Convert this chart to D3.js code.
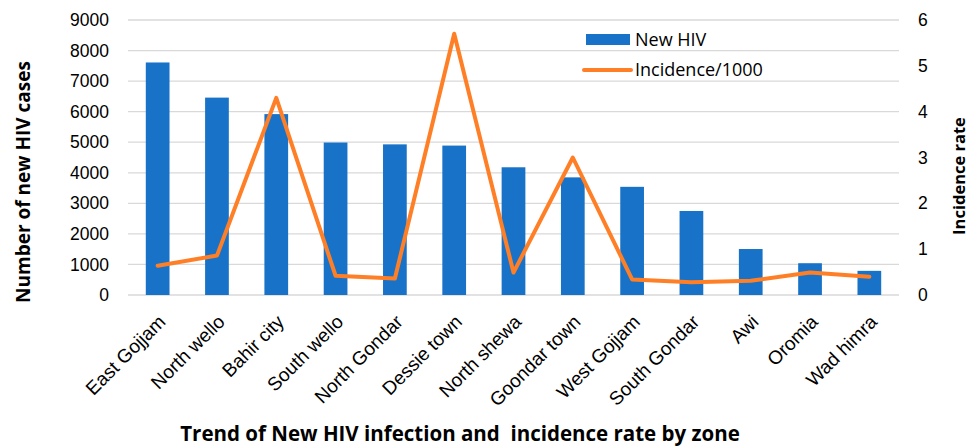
<!DOCTYPE html>
<html>
<head>
<meta charset="utf-8">
<script src="https://cdn.jsdelivr.net/npm/d3@7"></script>
<style>
  body { margin: 0; background: #fff; }
  svg { font-family: "Open Sans", Lato, sans-serif; }
</style>
</head>
<body>
<div id="chart"></div>
<script>
// zones and values
const zones = ["East Gojjam", "North wello", "Bahir city", "South wello", "North Gondar", "Dessie town",
  "North shewa", "Goondar town", "West Gojjam", "South Gondar", "Awi", "Oromia", "Wad himra"];
const newHiv = [7610, 6460, 5920, 4990, 4930, 4890, 4180, 3850, 3540, 2750, 1505, 1040, 790];
const incidence = [0.64, 0.86, 4.3, 0.42, 0.36, 5.7, 0.49, 3.0, 0.34, 0.28, 0.31, 0.49, 0.4];
const leftTicks = [0, 1000, 2000, 3000, 4000, 5000, 6000, 7000, 8000, 9000];
const rightTicks = [0, 1, 2, 3, 4, 5, 6];

const width = 969, height = 447;
const margin = { top: 20, right: 70, bottom: 152, left: 128 };
const blue = "#1873C8", orange = "#FF7F27";

const svg = d3.select("#chart").append("svg")
  .attr("width", width)
  .attr("height", height);

const x = d3.scaleBand()
  .domain(zones)
  .range([margin.left, width - margin.right])
  .paddingInner(0.6)
  .paddingOuter(0.3);

const y = d3.scaleLinear().domain([0, 9000]).range([height - margin.bottom, margin.top]);
const y2 = d3.scaleLinear().domain([0, 6]).range([height - margin.bottom, margin.top]);

// gridlines
svg.append("g")
  .selectAll("line")
  .data(leftTicks)
  .enter()
  .append("line")
  .attr("x1", margin.left)
  .attr("x2", width - margin.right)
  .attr("y1", d => y(d))
  .attr("y2", d => y(d))
  .attr("stroke", "#d9d9d9")
  .attr("stroke-width", 1.3);

// left axis
const leftAxis = d3.axisLeft(y).tickValues(leftTicks).tickFormat(d3.format("d")).tickSize(0).tickPadding(19);
svg.append("g")
  .attr("transform", `translate(${margin.left},0)`)
  .call(leftAxis)
  .call(g => g.select(".domain").remove())
  .selectAll("text")
  .style("font-size", "17.5px")
  .style("fill", "#000");

// right axis
const rightAxis = d3.axisRight(y2).tickValues(rightTicks).tickFormat(d3.format("d")).tickSize(0).tickPadding(19);
svg.append("g")
  .attr("transform", `translate(${width - margin.right},0)`)
  .call(rightAxis)
  .call(g => g.select(".domain").remove())
  .selectAll("text")
  .style("font-size", "17.5px")
  .style("fill", "#000");

// bars
svg.selectAll("rect.bar")
  .data(zones)
  .enter()
  .append("rect")
  .attr("class", "bar")
  .attr("x", d => x(d))
  .attr("width", x.bandwidth())
  .attr("y", (d, i) => y(newHiv[i]))
  .attr("height", (d, i) => y(0) - y(newHiv[i]))
  .attr("fill", blue);

// incidence line
const line = d3.line()
  .x((d, i) => x(zones[i]) + x.bandwidth() / 2)
  .y(d => y2(d));

svg.append("path")
  .datum(incidence)
  .attr("d", line)
  .attr("fill", "none")
  .attr("stroke", orange)
  .attr("stroke-width", 4)
  .attr("stroke-linejoin", "round")
  .attr("stroke-linecap", "round");

// x labels
const bottomAxis = d3.axisBottom(x).tickSize(0).tickPadding(0);
svg.append("g")
  .attr("transform", `translate(0,${y(0)})`)
  .call(bottomAxis)
  .call(g => g.select(".domain").remove())
  .selectAll("text")
  .style("font-size", "19px")
  .style("fill", "#000")
  .attr("text-anchor", "end")
  .attr("dy", "0")
  .attr("transform", "translate(9,28) rotate(-45)");

// axis titles
svg.append("text")
  .attr("transform", "translate(30,182) rotate(-90)")
  .attr("text-anchor", "middle")
  .style("font-size", "19px")
  .style("font-weight", "bold")
  .text("Number of new HIV cases");

svg.append("text")
  .attr("transform", "translate(965,176) rotate(-90)")
  .attr("text-anchor", "middle")
  .style("font-size", "16.5px")
  .style("font-weight", "bold")
  .text("Incidence rate");

svg.append("text")
  .attr("x", 460)
  .attr("y", 441)
  .attr("text-anchor", "middle")
  .style("font-size", "20.5px")
  .style("font-weight", "bold")
  .style("white-space", "pre")
  .text("Trend of New HIV infection and  incidence rate by zone");

// legend
const legend = svg.append("g").attr("transform", "translate(586,34)");
legend.append("rect")
  .attr("width", 44)
  .attr("height", 11)
  .attr("fill", blue);
legend.append("text")
  .attr("x", 49)
  .attr("y", 12)
  .style("font-size", "18px")
  .text("New HIV");
legend.append("line")
  .attr("x1", -2)
  .attr("x2", 45)
  .attr("y1", 36)
  .attr("y2", 36)
  .attr("stroke", orange)
  .attr("stroke-width", 4)
  .attr("stroke-linecap", "round");
legend.append("text")
  .attr("x", 49)
  .attr("y", 42)
  .style("font-size", "18px")
  .text("Incidence/1000");
</script>
</body>
</html>
